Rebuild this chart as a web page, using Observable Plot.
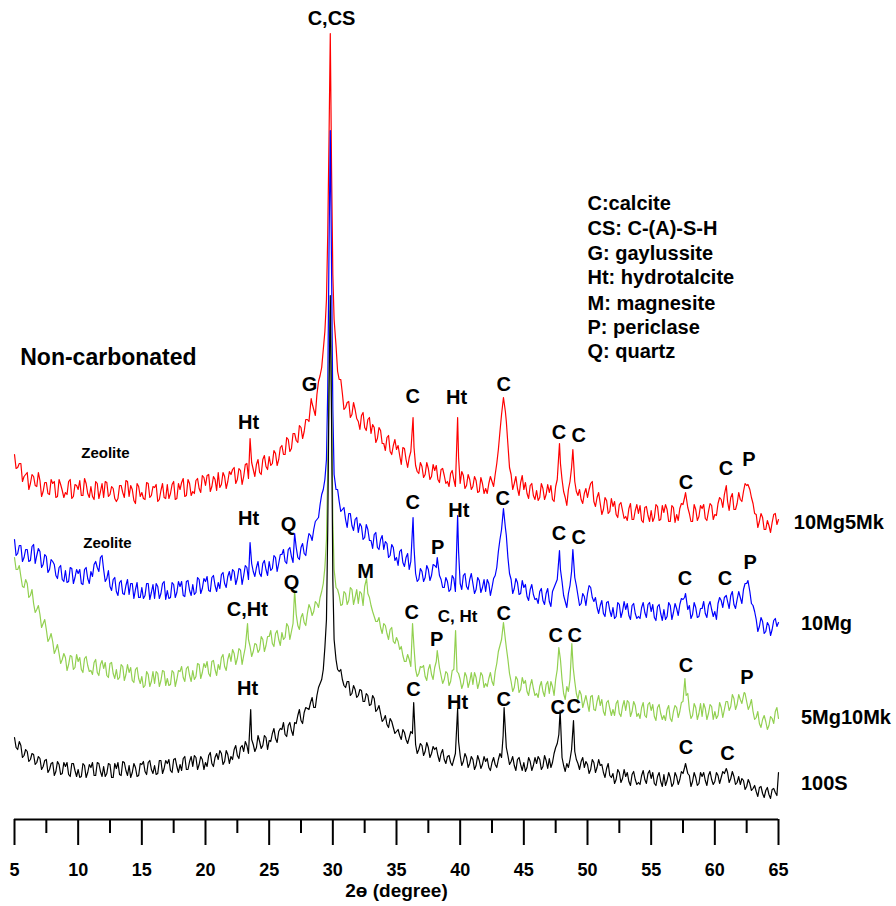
<!DOCTYPE html>
<html>
<head>
<meta charset="utf-8">
<script src="https://cdn.jsdelivr.net/npm/d3@7"></script>
<script src="https://cdn.jsdelivr.net/npm/@observablehq/plot@0.6"></script>
<style>
  html, body { margin: 0; padding: 0; background: #fff; }
  #chart { width: 896px; height: 906px; }
</style>
</head>
<body>
<div id="chart"></div>
<script>
// 2θ scan: readings every 0.125° from 5° to 65°, stored as the on-grid readings (5.00, 5.25, ...)
// and the in-between readings (5.125, 5.375, ...); values are stacked intensities (a.u.)
const scanStart = 5, scanStep = 0.25, midStart = 5.125;

const red10Mg5Mk = [
365,352,356,343, 347,336,343,333, 339,328,337,325, 336,322,340,329, 327,338,321,335,
330,324,341,326, 333,320,336,328, 322,337,325,331, 318,334,327,339, 323,330,316,333,
327,320,336,324, 332,318,329,322, 335,326,338,321, 330,341,324,336, 328,339,331,344,
334,345,333,340, 347,335,343,338, 345,352,340,349, 343,356,348,350, 355,347,360,353,
363,356,366,360, 374,365,380,371, 386,377,392,388, 400,415,410,425, 444,470,520,600,
545,474,440,426, 412,418,405,410, 398,404,392,400, 386,392,381,389, 376,382,368,374,
370,364,372,360, 362,380,354,346, 353,345,351,343, 349,340,350,344, 338,346,340,360,
336,344,334,340, 333,339,328,336, 331,336,338,345, 370,405,410,375, 345,336,331,337,
330,326,334,324, 329,322,331,325, 327,320,333,350, 340,322,330,352, 338,324,320,326,
322,336,318,322, 316,310,319,308, 313,305,315,309, 303,311,300,309, 306,299,312,304,
309,302,313,300, 307,310,298,312, 305,311,315,320, 306,298,310,303, 311,301,308,314,
305,316,320,325, 318,322,310,316, 320,328,334,330, 316,305,298,302, 290,294,297,306,
300];
const red10Mg5MkMid = [
351,356,338,345, 330,345,334,347, 323,337,326,340, 338,323,335,322, 325,340,323,334,
339,324,336,322, 323,338,321,336, 338,323,333,321, 321,334,322,338, 334,319,336,323,
321,337,322,333, 335,320,336,321, 321,335,320,336, 337,323,340,324, 326,341,327,342,
344,328,343,329, 332,347,331,348, 350,336,351,335, 355,341,357,343, 360,345,364,350,
354,369,354,372, 365,382,368,386, 379,394,381,400, 398,416,404,438, 452,488,600,700,
500,448,440,410, 417,402,417,401, 390,407,389,402, 395,377,392,376, 369,384,365,380,
374,355,371,352, 368,372,348,357, 342,357,340,355, 354,337,351,336, 333,349,333,362,
348,331,345,330, 343,327,342,326, 326,343,333,356, 388,415,398,352, 330,343,324,344,
337,321,336,320, 319,336,320,335, 334,318,340,356, 328,314,338,360, 328,330,316,331,
330,338,313,327, 305,322,306,321, 318,302,317,301, 299,316,300,315, 314,297,313,298,
298,315,299,314, 315,298,314,297, 299,316,322,312, 298,315,299,314, 315,299,316,300,
304,322,312,330, 309,326,310,327, 318,336,335,322, 306,292,306,290, 299,287,305,295];
const redPeaks = [[23.5,381],[28.3,421],[29.5,520],[29.6,585],[29.7,680],[29.8,786],[29.9,650],[30.0,545],[30.1,500],
  [36.3,402],[39.8,402],[43.25,405],[43.4,422],[43.55,408],[47.8,376],[48.85,370],[57.7,327],[60.9,334],[62.6,335]];

const blue10Mg = [
280,266,274,262, 270,259,275,264, 268,255,263,250, 258,244,252,240, 249,238,251,242,
246,236,250,241, 248,255,252,262, 250,241,233,240, 228,237,226,234, 225,236,230,222,
232,224,236,227, 221,233,226,238, 229,222,235,227, 233,224,238,229, 235,227,240,231,
238,229,242,234, 237,245,236,243, 239,248,241,250, 244,252,260,248, 252,246,256,250,
258,251,262,256, 265,258,270,263, 280,262,272,266, 277,284,290,300, 315,330,360,500,
400,330,318,310, 300,306,294,300, 287,293,282,290, 279,285,272,280, 270,276,264,272,
262,268,257,262, 250,280,246,240, 248,242,250,244, 254,262,240,232, 238,230,241,300,
236,244,233,240, 236,230,239,232, 228,236,232,244, 268,290,300,262, 240,231,237,226,
232,223,230,225, 221,228,219,226, 218,228,236,260, 238,218,226,248, 242,224,216,223,
226,232,218,212, 214,206,217,209, 212,203,215,208, 210,204,214,206, 203,212,207,215,
208,202,213,206, 210,203,214,207, 211,215,220,222, 214,205,212,203, 211,206,214,210,
208,216,219,222, 218,224,215,220, 222,230,236,228, 214,200,193,198, 188,194,190,201,
197];
const blue10MgMid = [
264,274,258,270, 258,273,256,271, 252,265,247,260, 255,241,254,238, 237,252,236,250,
250,235,252,236, 243,258,248,264, 238,249,229,242, 224,239,225,240, 236,221,237,222,
221,236,220,235, 236,221,236,220, 221,237,222,238, 238,223,239,224, 225,242,226,241,
243,228,244,228, 231,247,232,248, 250,235,251,235, 254,240,256,243, 258,243,259,244,
249,264,248,265, 270,256,272,257, 272,260,276,264, 286,279,298,302, 325,340,450,600,
340,330,308,312, 292,306,289,302, 296,280,295,279, 271,287,270,284, 278,262,275,259,
254,270,253,266, 258,272,238,251, 238,254,239,255, 252,244,232,242, 228,244,228,268,
230,246,230,246, 226,242,227,240, 240,224,241,252, 280,300,284,246, 226,241,225,239,
235,219,235,220, 216,231,215,231, 213,232,240,250, 224,212,234,265, 234,214,226,214,
234,222,222,206, 219,203,218,203, 201,217,202,218, 216,200,216,201, 201,217,202,217,
215,199,215,199, 200,217,200,216, 204,221,222,210, 201,217,202,211, 218,202,218,203,
200,222,212,224, 211,228,211,228, 216,236,239,216, 208,188,202,186, 197,184,199,193];
const bluePeaks = [[23.5,277],[27.0,286],[29.5,360],[29.6,430],[29.7,570],[29.8,689],[29.9,550],[30.0,410],[30.1,345],
  [36.3,302],[38.2,262],[39.8,304],[43.25,290],[43.4,311],[43.55,292],[47.8,269],[48.85,270],[57.7,226],[60.9,224],[62.6,239]];

const green5Mg10Mk = [
262,250,243,232, 236,224,216,210, 205,196,190,181, 178,170,166,160, 162,155,163,152,
158,150,161,154, 149,157,147,155, 151,144,156,146, 150,142,153,145, 147,139,150,141,
143,134,145,138, 136,146,139,148, 141,135,147,140, 148,142,151,144, 149,143,155,147,
152,146,158,150, 155,162,153,160, 158,166,161,169, 164,170,173,168, 175,170,180,174,
183,176,186,180, 187,182,193,188, 229,194,202,197, 206,211,208,216, 222,236,280,400,
300,232,224,215, 226,219,230,222, 216,226,233,226, 214,203,198,192, 196,186,190,178,
182,170,164,158, 160,190,150,146, 152,143,150,145, 152,160,144,140, 146,138,150,148,
140,136,143,138, 135,142,137,144, 136,141,138,148, 168,180,185,160, 138,132,140,130,
136,128,134,131, 126,133,128,135, 126,133,140,160, 140,120,128,165, 138,120,125,118,
116,123,110,118, 114,108,117,111, 110,116,106,113, 109,117,108,114, 106,112,104,115,
109,103,112,106, 104,110,101,108, 112,108,118,124, 110,104,112,106, 103,111,106,113,
108,104,112,110, 118,113,121,115, 120,124,118,114, 108,102,96,100, 98,94,101,108,
101];
const green5Mg10MkMid = [
250,254,233,240, 222,230,207,214, 192,200,178,186, 166,175,156,166, 149,164,150,165,
162,147,163,148, 145,160,144,159, 157,142,157,141, 140,155,139,155, 152,137,152,136,
132,148,133,148, 148,133,149,134, 134,149,133,149, 153,138,153,138, 140,156,141,156,
158,143,159,144, 150,165,149,166, 170,155,171,155, 172,180,163,176, 167,183,168,183,
189,173,189,174, 180,196,180,196, 205,190,206,194, 215,204,218,212, 228,252,320,450,
270,230,214,228, 215,232,215,230, 228,214,241,222, 208,198,202,186, 194,180,192,176,
178,173,158,165, 153,172,143,153, 154,139,155,140, 158,152,136,148, 134,149,185,146,
131,147,132,147, 147,131,147,132, 133,147,134,156, 174,190,172,146, 128,143,127,142,
139,124,140,124, 122,138,123,138, 138,124,150,160, 126,133,140,152, 126,129,112,124,
108,124,109,124, 120,104,119,104, 104,119,103,119, 119,103,118,103, 101,117,102,117,
115,99,115,100, 99,114,98,114, 102,117,135,126, 101,116,100,116, 116,100,115,100,
101,117,102,118, 109,125,110,125, 116,126,110,120, 100,108,92,104, 90,103,96,112];
const greenPeaks = [[23.3,196],[27.0,229],[29.5,280],[29.6,350],[29.7,430],[29.8,509],[29.9,420],[30.0,300],[30.1,250],
  [32.65,241],[36.26,196],[38.2,169],[39.64,189],[43.25,180],[43.4,197],[43.55,180],[47.75,172],[48.77,176],[57.65,141],[62.3,127]];

const black100S = [
82,70,74,64, 68,60,65,57, 61,53,60,50, 57,48,55,46, 53,45,56,49,
50,43,54,47, 52,44,57,48, 53,46,55,42, 51,45,58,49, 54,47,52,44,
55,48,57,50, 54,46,59,51, 56,49,60,53, 55,61,50,58, 53,62,55,60,
57,64,56,62, 60,66,58,65, 63,70,64,72, 68,74,76,75, 72,78,74,82,
79,86,81,88, 90,85,94,89, 97,104,99,107, 111,117,112,124, 136,150,200,400,
240,160,148,140, 132,138,126,130, 124,129,118,124, 115,121,110,106, 100,95,101,92,
88,84,90,80, 82,86,75,70, 74,68,72,66, 70,64,66,60, 63,57,60,90,
64,58,62,56, 60,54,59,55, 58,52,57,55, 60,62,90,64, 58,54,60,55,
57,52,58,54, 56,60,53,59, 61,57,72,85, 62,48,52,70, 68,56,58,52,
55,50,57,52, 54,47,51,44, 46,40,47,41, 43,38,45,40, 37,44,40,46,
41,36,43,38, 45,39,42,36, 43,40,46,50, 44,38,42,36, 43,39,44,40,
38,44,42,46, 47,41,43,37, 35,39,33,36, 31,28,32,26, 29,25,30,27,
47];
const black100SMid = [
72,78,62,70, 58,66,55,63, 50,59,47,56, 44,58,45,57, 57,43,56,43,
42,56,42,55, 57,44,56,43, 43,56,42,56, 57,44,57,44, 42,56,43,56,
58,45,59,46, 45,59,46,59, 60,47,61,47, 49,63,50,63, 64,50,63,50,
53,67,53,66, 69,55,69,56, 60,74,61,74, 78,66,80,68, 84,71,84,70,
78,91,77,91, 97,83,97,84, 96,110,96,112, 110,122,112,132, 140,172,330,460,
300,150,150,134, 138,124,134,122, 130,118,126,114, 124,108,114,98, 104,92,98,86,
90,80,87,76, 88,110,66,76, 64,77,62,73, 72,58,70,56, 64,54,66,78,
54,66,52,63, 50,64,51,63, 61,49,62,52, 66,84,72,55, 63,49,62,49,
48,62,49,62, 63,50,64,51, 52,66,76,105, 54,56,60,95, 60,50,62,58,
46,60,47,60, 55,42,56,42, 36,50,37,50, 47,34,48,35, 35,49,36,49,
47,34,47,33, 34,47,33,47, 35,48,52,46, 33,47,34,47, 47,34,48,35,
47,36,48,50, 37,48,35,43, 41,30,40,29, 34,23,33,22, 32,21,31,24];
const blackPeaks = [[23.55,110],[29.5,200],[29.6,290],[29.7,430],[29.8,524],[29.9,400],[30.0,240],[30.1,180],
  [36.35,117],[39.8,111],[43.45,112],[47.85,109],[48.9,99],[57.7,56],[60.9,51]];

const seriesNames = ["10Mg5Mk", "10Mg", "5Mg10Mk", "100S"];
const seriesColors = ["#ff0000", "#0000ff", "#92d050", "#000000"];
const seriesLabelX = [66.2, 66.76, 66.76, 66.76];
const seriesLabelY = [297, 196, 102, 36];

// phase labels on peaks
const peakText = ["C,CS",
  "G","Ht","C","Ht","C","C","C","C","C","P",
  "Ht","Q","C","P","Ht","C","C","C","C","C","P",
  "C,Ht","Q","M","C","P","C","C","C","C","P",
  "Ht","C","Ht","C","C","C","C","C"];
const peakX = [29.9,
  28.17,23.38,36.27,39.72,43.42,47.75,49.32,57.73,60.87,62.67,
  23.38,26.52,36.27,38.24,39.9,43.35,47.75,49.32,57.65,60.8,62.77,
  23.29,26.75,32.57,36.2,38.15,43.42,47.5,49.0,57.73,62.52,
  23.3,36.34,39.8,43.42,47.67,48.92,57.73,61.0];
const peakY = [801,
  435,397,423,422,435,387,384,337,351,360,
  301,295,317,272,309,321,286,282,241,241,257,
  210,237,248,207,180,206,184,184,154,142,
  131,130,117,120,112,113,72,66];
const smallLabel = ["C, Ht"], smallLabelX = [39.8], smallLabelY = [203];

const zeoliteX = [12.14, 12.3], zeoliteY = [366, 276];
const legendLines = ["C:calcite", "CS: C-(A)-S-H", "G: gaylussite", "Ht: hydrotalcite", "M: magnesite", "P: periclase", "Q: quartz"];
const legendX = 50.0;
const legendY = [616, 591, 566, 542, 516, 492, 468];
const panelTitle = "Non-carbonated";
const xTitle = "2ɵ (degree)";
const majorTicks = [5, 10, 15, 20, 25, 30, 35, 40, 45, 50, 55, 60, 65];
const minorTicks = [7.5, 12.5, 17.5, 22.5, 27.5, 32.5, 37.5, 42.5, 47.5, 52.5, 57.5, 62.5];

function build(grid, mids, peaks) {
  const near = x => peaks.some(([px]) => Math.abs(px - x) < 0.06);
  const pts = [
    ...grid.map((v, i) => ({x: scanStart + i * scanStep, y: v})),
    ...mids.map((v, i) => ({x: midStart + i * scanStep, y: v}))
  ].filter(p => !near(p.x));
  peaks.forEach(([x, y]) => pts.push({x, y}));
  return pts.sort((a, b) => a.x - b.x);
}
const allSeries = [
  build(red10Mg5Mk, red10Mg5MkMid, redPeaks),
  build(blue10Mg, blue10MgMid, bluePeaks),
  build(green5Mg10Mk, green5Mg10MkMid, greenPeaks),
  build(black100S, black100SMid, blackPeaks)
];

const font = '"Liberation Sans", Arial, Helvetica, sans-serif';
const peakTable = peakText.map((t, i) => ({t, x: peakX[i], y: peakY[i]}));
const seriesTable = seriesNames.map((t, i) => ({t, x: seriesLabelX[i], y: seriesLabelY[i]}));
const legendTable = legendLines.map((t, i) => ({t, x: legendX, y: legendY[i]}));
const zeoTable = zeoliteX.map((x, i) => ({t: "Zeolite", x, y: zeoliteY[i]}));
const smallTable = smallLabel.map((t, i) => ({t, x: smallLabelX[i], y: smallLabelY[i]}));

const lineMarks = allSeries.map((d, i) => Plot.line(d, {x: "x", y: "y", stroke: seriesColors[i], strokeWidth: 1.2}));

const chart = Plot.plot({
  width: 896, height: 906,
  marginTop: 0, marginBottom: 87, marginLeft: 14, marginRight: 118,
  x: {domain: [5, 65]},
  y: {domain: [0, 819], axis: null},
  style: {fontFamily: font, fontWeight: "bold", fontSize: "18px", background: "white", color: "black", overflow: "visible"},
  marks: [
    Plot.axisX({ticks: majorTicks, tickSize: 26, tickPadding: 18, strokeWidth: 2, fontSize: 18, fontWeight: "bold", label: null}),
    Plot.axisX({ticks: minorTicks, tickSize: 14, strokeWidth: 2, tickFormat: () => "", label: null}),
    Plot.ruleY([0], {strokeWidth: 2}),
    ...lineMarks,
    Plot.text(peakTable, {x: "x", y: "y", text: "t", fontSize: 20, fontWeight: "bold", fill: "black"}),
    Plot.text(smallTable, {x: "x", y: "y", text: "t", fontSize: 17, fontWeight: "bold", fill: "black"}),
    Plot.text(zeoTable, {x: "x", y: "y", text: "t", fontSize: 15, fontWeight: "bold", fill: "black"}),
    Plot.text(legendTable, {x: "x", y: "y", text: "t", fontSize: 20, fontWeight: "bold", fill: "black", textAnchor: "start"}),
    Plot.text(seriesTable, {x: "x", y: "y", text: "t", fontSize: 20, fontWeight: "bold", fill: "black", textAnchor: "start"}),
    Plot.text([panelTitle], {x: 5.45, y: 462, text: d => d, fontSize: 23, fontWeight: "bold", fill: "black", textAnchor: "start"}),
    Plot.text([xTitle], {x: 35, y: -71, text: d => d, fontSize: 19, fontWeight: "bold", fill: "black"})
  ]
});
document.getElementById("chart").appendChild(chart);
</script>
</body>
</html>
